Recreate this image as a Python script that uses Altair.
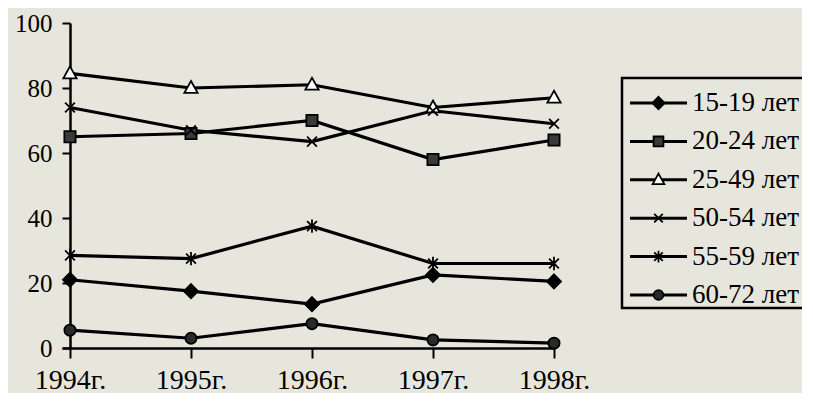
import altair as alt
import pandas as pd

years = [1994, 1995, 1996, 1997, 1998]
series = ["15-19 лет", "20-24 лет", "25-49 лет", "50-54 лет", "55-59 лет", "60-72 лет"]
s15_19 = [21, 17.5, 13.5, 22.5, 20.5]
s20_24 = [65, 66, 70, 58, 64]
s25_49 = [84.5, 80, 81, 74, 77]
s50_54 = [74, 67, 63.5, 73, 69]
s55_59 = [28.5, 27.5, 37.5, 26, 26]
s60_72 = [5.5, 3, 7.5, 2.5, 1.5]
y_ticks = [0, 20, 40, 60, 80, 100]

values = [s15_19, s20_24, s25_49, s50_54, s55_59, s60_72]
rows = []
for name, vals in zip(series, values):
    for yr, v in zip(years, vals):
        rows.append({"year": yr, "value": v, "series": name})
df = pd.DataFrame(rows)
legend_df = pd.DataFrame({"series": series})

FONT = "Liberation Serif"

# marker shapes
marker_shapes = [
    "M0,-1L1,0L0,1L-1,0Z",
    "M-0.8,-0.8H0.8V0.8H-0.8Z",
    "M0,-1L0.95,0.7L-0.95,0.7Z",
    "M-0.7,-0.7L0.7,0.7M-0.7,0.7L0.7,-0.7",
    "M-0.7,-0.7L0.7,0.7M-0.7,0.7L0.7,-0.7M0,-0.95L0,0.95",
    "M0.8,0A0.8,0.8 0 1,1 -0.8,0A0.8,0.8 0 1,1 0.8,0Z",
]
marker_fills = ["black", "#3a3a3a", "white", "black", "black", "#2a2a2a"]
marker_strokes = [1.8, 1.8, 2.2, 3.2, 3.0, 1.8]

shape_scale = alt.Scale(domain=series, range=marker_shapes)
fill_scale = alt.Scale(domain=series, range=marker_fills)
sw_scale = alt.Scale(domain=series, range=marker_strokes)

x_scale = alt.Scale(domain=[1993.934, 1998], nice=False, zero=False)
y_scale = alt.Scale(domain=[0, 100], nice=False)

base = alt.Chart(df).encode(
    x=alt.X("year:Q", scale=x_scale,
            axis=alt.Axis(values=years, labelExpr="format(datum.value,'d') + 'г.'",
                          title=None, grid=False, domainColor="black", domainWidth=2.5,
                          tickColor="black", tickWidth=2, tickSize=10, labelPadding=8,
                          labelFlush=False, labelOverlap=False,
                          labelFont=FONT, labelFontSize=28, labelColor="black")),
    y=alt.Y("value:Q", scale=y_scale,
            axis=alt.Axis(values=y_ticks, title=None, grid=False, offset=-8,
                          domainColor="black", domainWidth=2.5, tickColor="black",
                          tickWidth=2, tickSize=8, labelPadding=10,
                          labelFont=FONT, labelFontSize=25, labelColor="black")),
)

lines = base.mark_line(color="black", strokeWidth=3.2).encode(detail="series:N")

points = base.mark_point(filled=True, size=196, stroke="black", opacity=1).encode(
    shape=alt.Shape("series:N", scale=shape_scale, legend=None),
    fill=alt.Fill("series:N", scale=fill_scale, legend=None),
    strokeWidth=alt.StrokeWidth("series:N", scale=sw_scale, legend=None),
)

main = alt.layer(lines, points)

# legend drawn from the series list through its own point scale
leg_y = alt.Y("series:N", scale=alt.Scale(type="point", domain=series, range=[80, 272], padding=0),
              axis=None)
leg = alt.Chart(legend_df)

leg_box = leg.mark_rect(fill="transparent", stroke="black", strokeWidth=2.5).encode(
    x=alt.value(560), x2=alt.value(900), y=alt.value(55), y2=alt.value(285)
).transform_filter("datum.series == '15-19 лет'")
leg_lines = leg.mark_rule(color="black", strokeWidth=3).encode(
    y=leg_y, x=alt.value(568), x2=alt.value(625))
leg_points = leg.mark_point(filled=True, size=150, stroke="black", opacity=1).encode(
    y=leg_y, x=alt.value(596.5),
    shape=alt.Shape("series:N", scale=shape_scale, legend=None),
    fill=alt.Fill("series:N", scale=fill_scale, legend=None),
    strokeWidth=alt.StrokeWidth("series:N", scale=sw_scale, legend=None),
)
leg_text = leg.mark_text(align="left", baseline="middle", font=FONT, fontSize=27,
                         color="black").encode(
    y=leg_y, x=alt.value(630), text="series:N")

legend = alt.layer(leg_box, leg_lines, leg_points, leg_text)

chart = alt.layer(main, legend).resolve_scale(y="independent").properties(
    width=492, height=325,
    padding={"left": 54, "top": 15, "right": 248, "bottom": 45},
    autosize=alt.AutoSizeParams(type="none"),
    background="#e7e6dc",
).configure_view(stroke=None)

chart.save("out.html", embed_options={"renderer": "svg", "actions": False})
